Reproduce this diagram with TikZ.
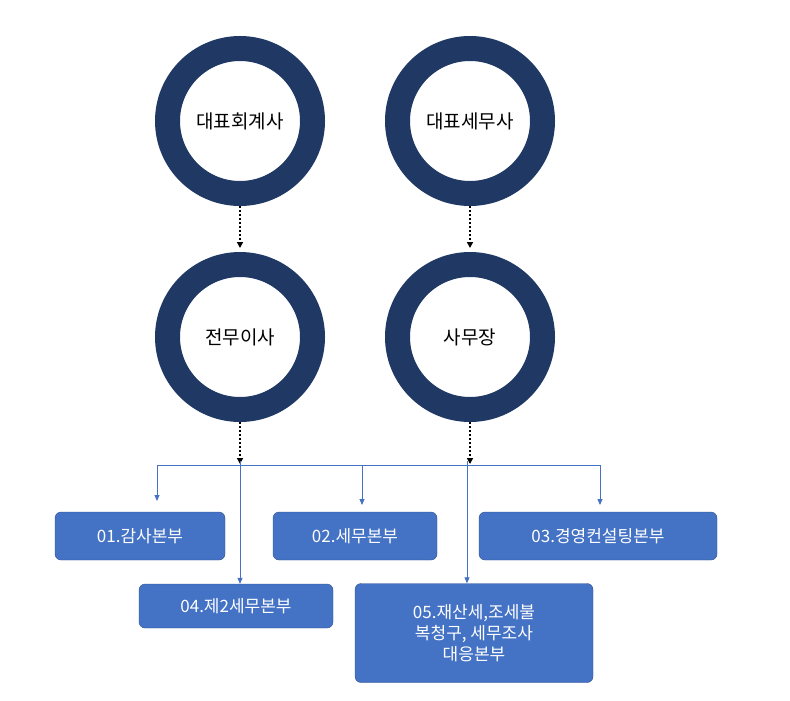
\documentclass[tikz,border=0pt]{standalone}
\usepackage{fontspec}
\setmainfont{Noto Sans CJK KR}
\usetikzlibrary{arrows.meta}
\definecolor{ringc}{HTML}{203864}
\definecolor{boxc}{HTML}{4472C4}
\definecolor{boxd}{HTML}{2F528F}
\begin{document}
\begin{tikzpicture}[x=1pt,y=-1pt,
  ring/.style={circle,draw=ringc,line width=25pt,minimum size=145pt,inner sep=0pt,font=\fontsize{19}{22}\selectfont},
  bx/.style={draw=boxd,fill=boxc,rounded corners=6pt,text=white,font=\fontsize{17}{21}\selectfont,align=center,inner sep=0pt},
  dot/.style={dotted,line width=2pt,-{Triangle[length=6pt,width=6pt]}},
  ln/.style={draw=boxc,line width=0.8pt},
  ar/.style={ln,-{Triangle[length=6pt,width=5pt]}}]
\useasboundingbox (0,0) rectangle (790,701);
\node[ring] (a) at (240,121) {대표회계사};
\node[ring] (b) at (470,121) {대표세무사};
\node[ring] (c) at (240,337) {전무이사};
\node[ring] (d) at (470,337) {사무장};
\draw[dot] (a.south) -- ++(0,42) coordinate (a2);
\draw[dot] (b.south) -- ++(0,42);
\draw[dot] (c.south) -- ++(0,42) coordinate (c2);
\draw[dot] (d.south) -- ++(0,42) coordinate (d2);
\node[bx,minimum width=170pt,minimum height=48pt] (b1) at (140,536) {01.감사본부};
\node[bx,minimum width=164pt,minimum height=48pt] (b2) at (355,536) {02.세무본부};
\node[bx,minimum width=238pt,minimum height=48pt] (b3) at (598,536) {03.경영컨설팅본부};
\node[bx,minimum width=194pt,minimum height=44pt] (b4) at (236,606) {04.제2세무본부};
\node[bx,minimum width=238pt,minimum height=99pt] (b5) at (474,633) {05.재산세,조세불\\복청구, 세무조사\\대응본부};
\coordinate (L) at (157,465);
\coordinate (R) at (600,465);
\draw[ln] (L) -- (R);
\draw[ar] (L) -- (157,501);
\draw[ar] (362,465) -- (362,505);
\draw[ar] (R) -- (600,505);
\draw[ar] (240,461) -- (b4.north -| 240,0);
\draw[ar] (467,461) -- (b5.north -| 467,0);
\end{tikzpicture}
\end{document}
